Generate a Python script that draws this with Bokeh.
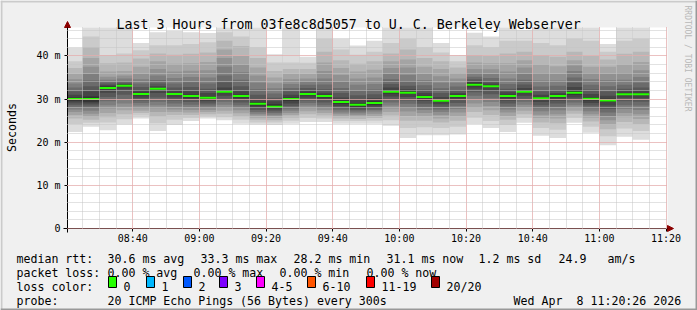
import pandas as pd
from math import pi
from bokeh.plotting import figure
from bokeh.models import (Range1d, FixedTicker, DatetimeTickFormatter, Label, BoxAnnotation,
                          Arrow, NormalHead, ColumnDataSource, CustomJSTickFormatter)
from bokeh.embed import file_html
from bokeh.resources import INLINE

# ---------------- data ----------------
title_text = "Last 3 Hours from 03fe8c8d5057 to U. C. Berkeley Webserver"
credit_text = "RRDTOOL / TOBI OETIKER"
y_axis_title = "Seconds"
view_start = pd.Timestamp("2026-04-08 08:20:26")
view_end = pd.Timestamp("2026-04-08 11:20:26")
slot_start = pd.date_range("2026-04-08 08:20:00", periods=35, freq="5min")
y_max = 46.6

x_tick_labels = ["08:40", "09:00", "09:20", "09:40", "10:00", "10:20", "10:40", "11:00", "11:20"]
y_ticks = [0, 10, 20, 30, 40]

median_rtt = [30.0, 30.0, 32.6, 33.1, 31.2, 32.4, 31.2, 30.7, 30.3, 31.7, 30.7, 28.9, 28.2, 30.0,
              31.2, 30.7, 29.3, 28.7, 29.1, 31.7, 31.5, 30.5, 29.6, 30.7, 33.3, 33.0, 30.7, 31.7,
              30.2, 30.7, 31.5, 30.1, 29.7, 31.1, 31.1]

# 20 sorted ping RTTs (ms) per 5-minute slot
pings_0820 = [22.4, 24.2, 25.5, 26.3, 27.0, 27.6, 28.2, 28.7, 29.2, 29.6, 30.4, 31.0, 31.8, 32.7, 33.6, 34.6, 35.8, 37.2, 38.8, 41.9]
pings_0825 = [23.6, 24.5, 25.2, 25.9, 26.6, 27.3, 28.0, 28.5, 29.0, 29.4, 30.6, 31.8, 33.0, 34.3, 35.8, 37.5, 39.5, 42.0, 44.5, 48.0]
pings_0830 = [22.8, 24.6, 25.8, 26.8, 27.8, 28.6, 29.5, 30.5, 31.5, 32.3, 32.9, 33.2, 33.6, 34.0, 34.5, 35.2, 36.4, 38.3, 40.2, 48.0]
pings_0835 = [24.1, 25.3, 26.5, 27.4, 28.2, 29.0, 30.0, 31.0, 32.2, 32.9, 33.3, 33.5, 33.8, 34.2, 34.8, 35.5, 36.5, 38.5, 40.6, 48.0]
pings_0840 = [25.5, 26.2, 26.8, 27.3, 27.9, 28.5, 29.1, 29.7, 30.3, 30.9, 31.5, 32.1, 32.8, 33.6, 34.6, 35.9, 37.5, 39.4, 41.3, 43.0]
pings_0845 = [22.6, 24.4, 26.0, 27.0, 27.9, 28.6, 29.4, 30.4, 31.4, 32.2, 32.6, 33.0, 33.6, 34.4, 35.5, 37.0, 38.8, 40.6, 42.5, 45.5]
pings_0850 = [24.0, 25.2, 26.3, 27.0, 27.6, 28.3, 29.0, 29.7, 30.4, 31.0, 31.4, 32.0, 32.7, 33.6, 34.9, 36.4, 38.2, 40.3, 42.5, 45.8]
pings_0855 = [24.9, 25.6, 26.3, 26.9, 27.5, 28.1, 28.7, 29.3, 29.9, 30.4, 31.0, 31.8, 32.8, 33.9, 35.1, 36.6, 38.3, 40.5, 42.8, 45.5]
pings_0900 = [25.5, 26.0, 26.5, 27.0, 27.5, 28.0, 28.5, 29.0, 29.5, 30.0, 30.6, 31.4, 32.4, 33.6, 35.0, 36.7, 38.6, 40.8, 43.2, 45.3]
pings_0905 = [25.1, 25.8, 26.6, 27.3, 28.0, 28.7, 29.4, 30.1, 30.8, 31.4, 32.0, 32.7, 33.9, 35.5, 37.5, 39.5, 41.5, 43.5, 45.5, 47.5]
pings_0910 = [24.3, 25.2, 26.0, 26.7, 27.4, 28.0, 28.6, 29.2, 29.8, 30.4, 31.0, 31.8, 33.0, 34.5, 36.2, 38.0, 40.0, 42.3, 44.5, 46.3]
pings_0915 = [24.1, 24.6, 25.2, 25.7, 26.2, 26.6, 27.0, 27.5, 28.0, 28.5, 29.3, 30.0, 31.0, 32.3, 33.8, 35.5, 37.3, 39.5, 42.0, 48.0]
pings_0920 = [24.0, 24.6, 25.1, 25.6, 26.0, 26.4, 26.8, 27.2, 27.6, 28.0, 28.8, 29.5, 30.3, 31.3, 32.5, 33.7, 35.0, 36.5, 38.5, 40.4]
pings_0925 = [24.3, 25.0, 25.7, 26.3, 26.8, 27.3, 27.8, 28.4, 29.0, 29.6, 30.4, 31.0, 31.8, 32.6, 33.5, 34.6, 35.8, 37.0, 38.5, 47.0]
pings_0930 = [24.7, 25.6, 26.5, 27.2, 27.9, 28.5, 29.1, 29.7, 30.3, 30.9, 31.5, 32.0, 32.6, 33.3, 34.0, 34.8, 35.8, 37.0, 38.4, 39.8]
pings_0935 = [24.7, 25.5, 26.2, 26.8, 27.4, 28.0, 28.6, 29.2, 29.8, 30.4, 31.0, 31.5, 32.3, 33.4, 34.8, 36.5, 38.5, 41.0, 44.0, 48.0]
pings_0940 = [24.3, 24.9, 25.5, 26.0, 26.5, 26.9, 27.4, 27.9, 28.4, 28.9, 29.7, 30.4, 31.4, 32.6, 34.0, 35.6, 37.2, 39.0, 41.5, 44.0]
pings_0945 = [24.3, 24.9, 25.4, 25.9, 26.3, 26.7, 27.1, 27.5, 27.9, 28.3, 29.1, 30.0, 30.9, 32.0, 33.3, 34.8, 36.4, 38.2, 40.3, 42.4]
pings_0950 = [24.3, 25.0, 25.6, 26.1, 26.6, 27.1, 27.5, 27.9, 28.3, 28.7, 29.5, 30.2, 31.1, 32.2, 33.5, 35.0, 36.8, 38.8, 41.0, 43.5]
pings_0955 = [23.8, 25.1, 26.2, 27.0, 27.8, 28.5, 29.2, 29.9, 30.6, 31.3, 32.1, 32.7, 33.5, 34.6, 35.8, 37.2, 38.8, 40.6, 43.0, 48.0]
pings_1000 = [21.0, 23.3, 25.0, 26.1, 27.1, 28.0, 28.9, 29.7, 30.5, 31.2, 31.8, 32.3, 33.1, 34.2, 35.6, 37.3, 39.2, 41.5, 44.0, 48.0]
pings_1005 = [21.6, 23.5, 25.0, 26.0, 26.8, 27.5, 28.2, 28.9, 29.6, 30.2, 30.8, 31.4, 32.2, 33.2, 34.4, 35.8, 37.5, 39.5, 42.0, 48.0]
pings_1010 = [21.6, 23.3, 24.6, 25.5, 26.3, 27.0, 27.6, 28.2, 28.8, 29.3, 29.9, 30.5, 31.4, 32.5, 33.8, 35.3, 37.0, 38.8, 40.8, 43.0]
pings_1015 = [21.8, 23.6, 25.0, 26.0, 26.9, 27.7, 28.4, 29.1, 29.8, 30.4, 31.0, 31.4, 32.1, 32.9, 33.8, 34.8, 36.0, 37.3, 38.8, 40.2]
pings_1020 = [24.2, 25.7, 27.0, 28.0, 29.0, 29.9, 30.8, 31.6, 32.4, 33.0, 33.8, 34.1, 34.6, 35.2, 36.0, 37.0, 38.5, 40.2, 42.5, 45.4]
pings_1025 = [23.3, 24.9, 26.3, 27.4, 28.4, 29.3, 30.2, 31.1, 32.0, 32.8, 33.2, 33.6, 34.1, 34.9, 35.8, 36.9, 38.3, 40.0, 42.0, 44.5]
pings_1030 = [22.4, 24.0, 25.2, 26.1, 26.9, 27.6, 28.3, 29.0, 29.7, 30.4, 31.0, 31.6, 32.4, 33.5, 34.8, 36.4, 38.3, 40.6, 43.5, 48.0]
pings_1035 = [24.5, 25.6, 26.5, 27.3, 28.0, 28.7, 29.4, 30.1, 30.8, 31.4, 32.0, 32.6, 33.4, 34.5, 35.8, 37.3, 39.0, 41.0, 43.5, 46.0]
pings_1040 = [21.5, 23.3, 24.6, 25.6, 26.4, 27.2, 27.9, 28.6, 29.3, 29.9, 30.5, 31.0, 31.8, 32.9, 34.3, 36.0, 38.0, 40.2, 43.0, 48.0]
pings_1045 = [21.0, 22.9, 24.4, 25.5, 26.5, 27.4, 28.2, 29.0, 29.7, 30.4, 31.0, 31.4, 32.1, 33.1, 34.3, 35.8, 37.6, 39.8, 42.5, 48.0]
pings_1050 = [24.5, 25.6, 26.6, 27.3, 28.0, 28.6, 29.2, 29.8, 30.4, 31.0, 32.0, 32.8, 33.8, 35.0, 36.5, 37.8, 39.0, 41.0, 44.0, 48.0]
pings_1055 = [22.2, 23.6, 24.8, 25.7, 26.5, 27.2, 27.9, 28.5, 29.1, 29.7, 30.5, 31.2, 32.2, 33.3, 34.6, 36.0, 37.5, 40.0, 43.5, 48.0]
pings_1100 = [19.3, 21.4, 23.0, 24.1, 25.1, 26.0, 26.9, 27.7, 28.5, 29.3, 30.1, 30.8, 31.8, 33.0, 34.4, 35.9, 37.5, 39.2, 41.0, 42.8]
pings_1105 = [21.3, 23.2, 24.7, 25.8, 26.8, 27.7, 28.6, 29.5, 30.3, 31.0, 31.4, 31.8, 32.4, 33.3, 34.5, 36.0, 38.0, 40.5, 43.5, 48.0]
pings_1110 = [20.6, 22.6, 24.2, 25.4, 26.5, 27.5, 28.5, 29.4, 30.2, 31.0, 31.4, 31.9, 32.7, 33.8, 35.1, 36.7, 38.6, 41.0, 44.0, 48.0]

all_pings = [pings_0820, pings_0825, pings_0830, pings_0835, pings_0840, pings_0845, pings_0850,
             pings_0855, pings_0900, pings_0905, pings_0910, pings_0915, pings_0920, pings_0925,
             pings_0930, pings_0935, pings_0940, pings_0945, pings_0950, pings_0955, pings_1000,
             pings_1005, pings_1010, pings_1015, pings_1020, pings_1025, pings_1030, pings_1035,
             pings_1040, pings_1045, pings_1050, pings_1055, pings_1100, pings_1105, pings_1110]

loss_labels = ["0", "1", "2", "3", "4-5", "6-10", "11-19", "20/20"]
loss_colors = ["#26ff00", "#00b8ff", "#0059ff", "#7e00ff", "#ff00ff", "#ff5500", "#ff0000", "#a10000"]

stats_rtt = ["30.6 ms avg", "33.3 ms max", "28.2 ms min", "31.1 ms now", "1.2 ms sd", "24.9", "am/s"]
stats_loss = ["0.00 % avg", "0.00 % max", "0.00 % min", "0.00 % now"]
probe_text = "20 ICMP Echo Pings (56 Bytes) every 300s"
stamp_a = "Wed Apr"
stamp_b = "8 11:20:26 2026"

# ---------------- geometry ----------------
W, H = 697, 310
FL, FR, FT, FB = 67, 667, 27, 228          # data area in canvas pixels
FONT = "DejaVu Sans Mono"
BG = "#f0f0f0"


def to_ms(ts):
    return pd.Timestamp(ts).value / 1e6


t0, t1 = to_ms(view_start), to_ms(view_end)
kx = (FR - FL) / (t1 - t0)     # px per ms of time
ky = (FB - FT) / y_max         # px per ms of rtt


def px_x(X):
    return t0 + (X - FL) / kx


def px_y(Y):
    return (FB - Y) / ky


# the frame covers the whole canvas; axes are pinned with fixed_location
p = figure(width=W, height=H, output_backend="svg", toolbar_location=None,
           x_axis_type="datetime",
           x_range=Range1d(px_x(0), px_x(W)), y_range=Range1d(px_y(H), px_y(0)),
           min_border=0, title=None)
p.background_fill_color = BG
p.border_fill_color = BG
p.outline_line_color = None

# white canvas of the graph
p.add_layout(BoxAnnotation(left=t0, right=t1, bottom=0, top=y_max, fill_color="white",
                           fill_alpha=1, line_color=None, level="underlay"))

# 3-D frame of the image
for l, r, b, t, c in [(0, W, 2, 0, "#cbcbcb"), (0, 2, H, 0, "#cbcbcb"),
                      (W - 2, W, H, 0, "#999999"), (0, W, H, H - 2, "#999999")]:
    p.add_layout(BoxAnnotation(left=px_x(l), right=px_x(r), bottom=px_y(b), top=px_y(t),
                               fill_color=c, fill_alpha=1, line_color=None, level="underlay"))

# ---------------- smoke ----------------
lefts = [to_ms(t) for t in slot_start]
rights = [to_ms(t + pd.Timedelta(minutes=5)) for t in slot_start]
for k in range(10):
    shade = int(190 / 10 * (10 - (k + 1))) + 50
    col = "#%02x%02x%02x" % (shade, shade, shade)
    src = ColumnDataSource(dict(left=[max(v, t0) for v in lefts], right=rights,
                                bottom=[pp[k] for pp in all_pings],
                                top=[min(pp[19 - k], y_max) for pp in all_pings]))
    p.quad(left="left", right="right", bottom="bottom", top="top", source=src,
           fill_color=col, line_color=None)

msrc = ColumnDataSource(dict(x0=[max(v, t0) for v in lefts], x1=rights, y=median_rtt))
p.segment(x0="x0", x1="x1", y0="y", y1="y", source=msrc, line_color="#26ff00", line_width=2)

# ---------------- axes & grid ----------------
major_x = [to_ms("2026-04-08 " + s) for s in x_tick_labels]
minor_x = [to_ms(t) for t in pd.date_range("2026-04-08 08:25", "2026-04-08 11:20", freq="5min")]
p.xaxis.ticker = FixedTicker(ticks=major_x, minor_ticks=minor_x)
p.xaxis.formatter = DatetimeTickFormatter(minutes="%H:%M", hourmin="%H:%M", hours="%H:%M",
                                          minsec="%H:%M", seconds="%H:%M", days="%H:%M")
p.yaxis.ticker = FixedTicker(ticks=y_ticks, minor_ticks=list(range(2, 47, 2)))
p.yaxis.formatter = CustomJSTickFormatter(code="return tick == 0 ? '0' : tick + ' m';")
p.xaxis.fixed_location = 0
p.yaxis.fixed_location = t0
p.xaxis.bounds = (px_x(63), px_x(668))
p.yaxis.bounds = (px_y(232), px_y(24))

for ax in (p.xaxis[0], p.yaxis[0]):
    ax.axis_line_color = "black"
    ax.major_tick_line_color = "black"
    ax.major_tick_out = 3
    ax.major_tick_in = 0
    ax.minor_tick_out = 0
    ax.minor_tick_in = 0
    ax.major_label_text_font = FONT
    ax.major_label_text_font_size = "10px"
    ax.major_label_text_color = "black"
p.xaxis.major_label_standoff = 1
p.yaxis.major_label_standoff = 4

for g in (p.xgrid[0], p.ygrid[0]):
    g.level = "overlay"
    g.grid_line_color = "#f4a0a0"
    g.grid_line_dash = "1 1"
    g.grid_line_width = 1
    g.minor_grid_line_color = "#c4c4c4"
    g.minor_grid_line_dash = "1 1"
    g.minor_grid_line_width = 1
p.xgrid.bounds = (t0, t1)
p.ygrid.bounds = (0, y_max)
p.xgrid.cross_bounds = (0, y_max)
p.ygrid.cross_bounds = (t0, t1)

# axis arrows
p.add_layout(Arrow(end=NormalHead(size=6, fill_color="#8b0000", line_color="#8b0000"),
                   x_start=px_x(664), y_start=0, x_end=px_x(673), y_end=0,
                   line_color="black", line_width=1))
p.add_layout(Arrow(end=NormalHead(size=6, fill_color="#8b0000", line_color="#8b0000"),
                   x_start=t0, y_start=px_y(30), x_end=t0, y_end=px_y(21),
                   line_color="black", line_width=1))

# ---------------- texts ----------------
def lab(X, Y, text, size="11.6px", align="left", baseline="alphabetic", color="black", angle=0):
    p.add_layout(Label(x=px_x(X), y=px_y(Y), text=text, text_font=FONT, text_font_size=size,
                       text_align=align, text_baseline=baseline, text_color=color, angle=angle))


lab(116, 24, title_text, size="13.3px")
lab(11, 127, y_axis_title, align="center", baseline="middle", angle=pi / 2)
lab(687, 5, credit_text, size="8px", baseline="middle", color="#b8b8b8", angle=-pi / 2)

row1, row2, row3, row4 = 258, 272, 286, 300
lab(16, row1, "median rtt:")
for X, t in zip([107, 200, 293, 386, 478, 558, 607], stats_rtt):
    lab(X, row1, t)
lab(16, row2, "packet loss:")
for X, t in zip([107, 193, 279, 366], stats_loss):
    lab(X, row2, t)
lab(16, row3, "loss color:")
box_x = [108, 146, 183, 219, 256, 307, 366, 431]
p.quad(left=[px_x(b) for b in box_x], right=[px_x(b + 8) for b in box_x],
       top=[px_y(276)] * 8, bottom=[px_y(287)] * 8,
       fill_color=loss_colors, line_color="black", line_width=1)
for X, t in zip(box_x, loss_labels):
    lab(X + 15, row3, t)
lab(16, row4, "probe:")
lab(107, row4, probe_text)
lab(513, row4, stamp_a)
lab(576, row4, stamp_b)

open("out.html", "w").write(file_html(p, INLINE))
